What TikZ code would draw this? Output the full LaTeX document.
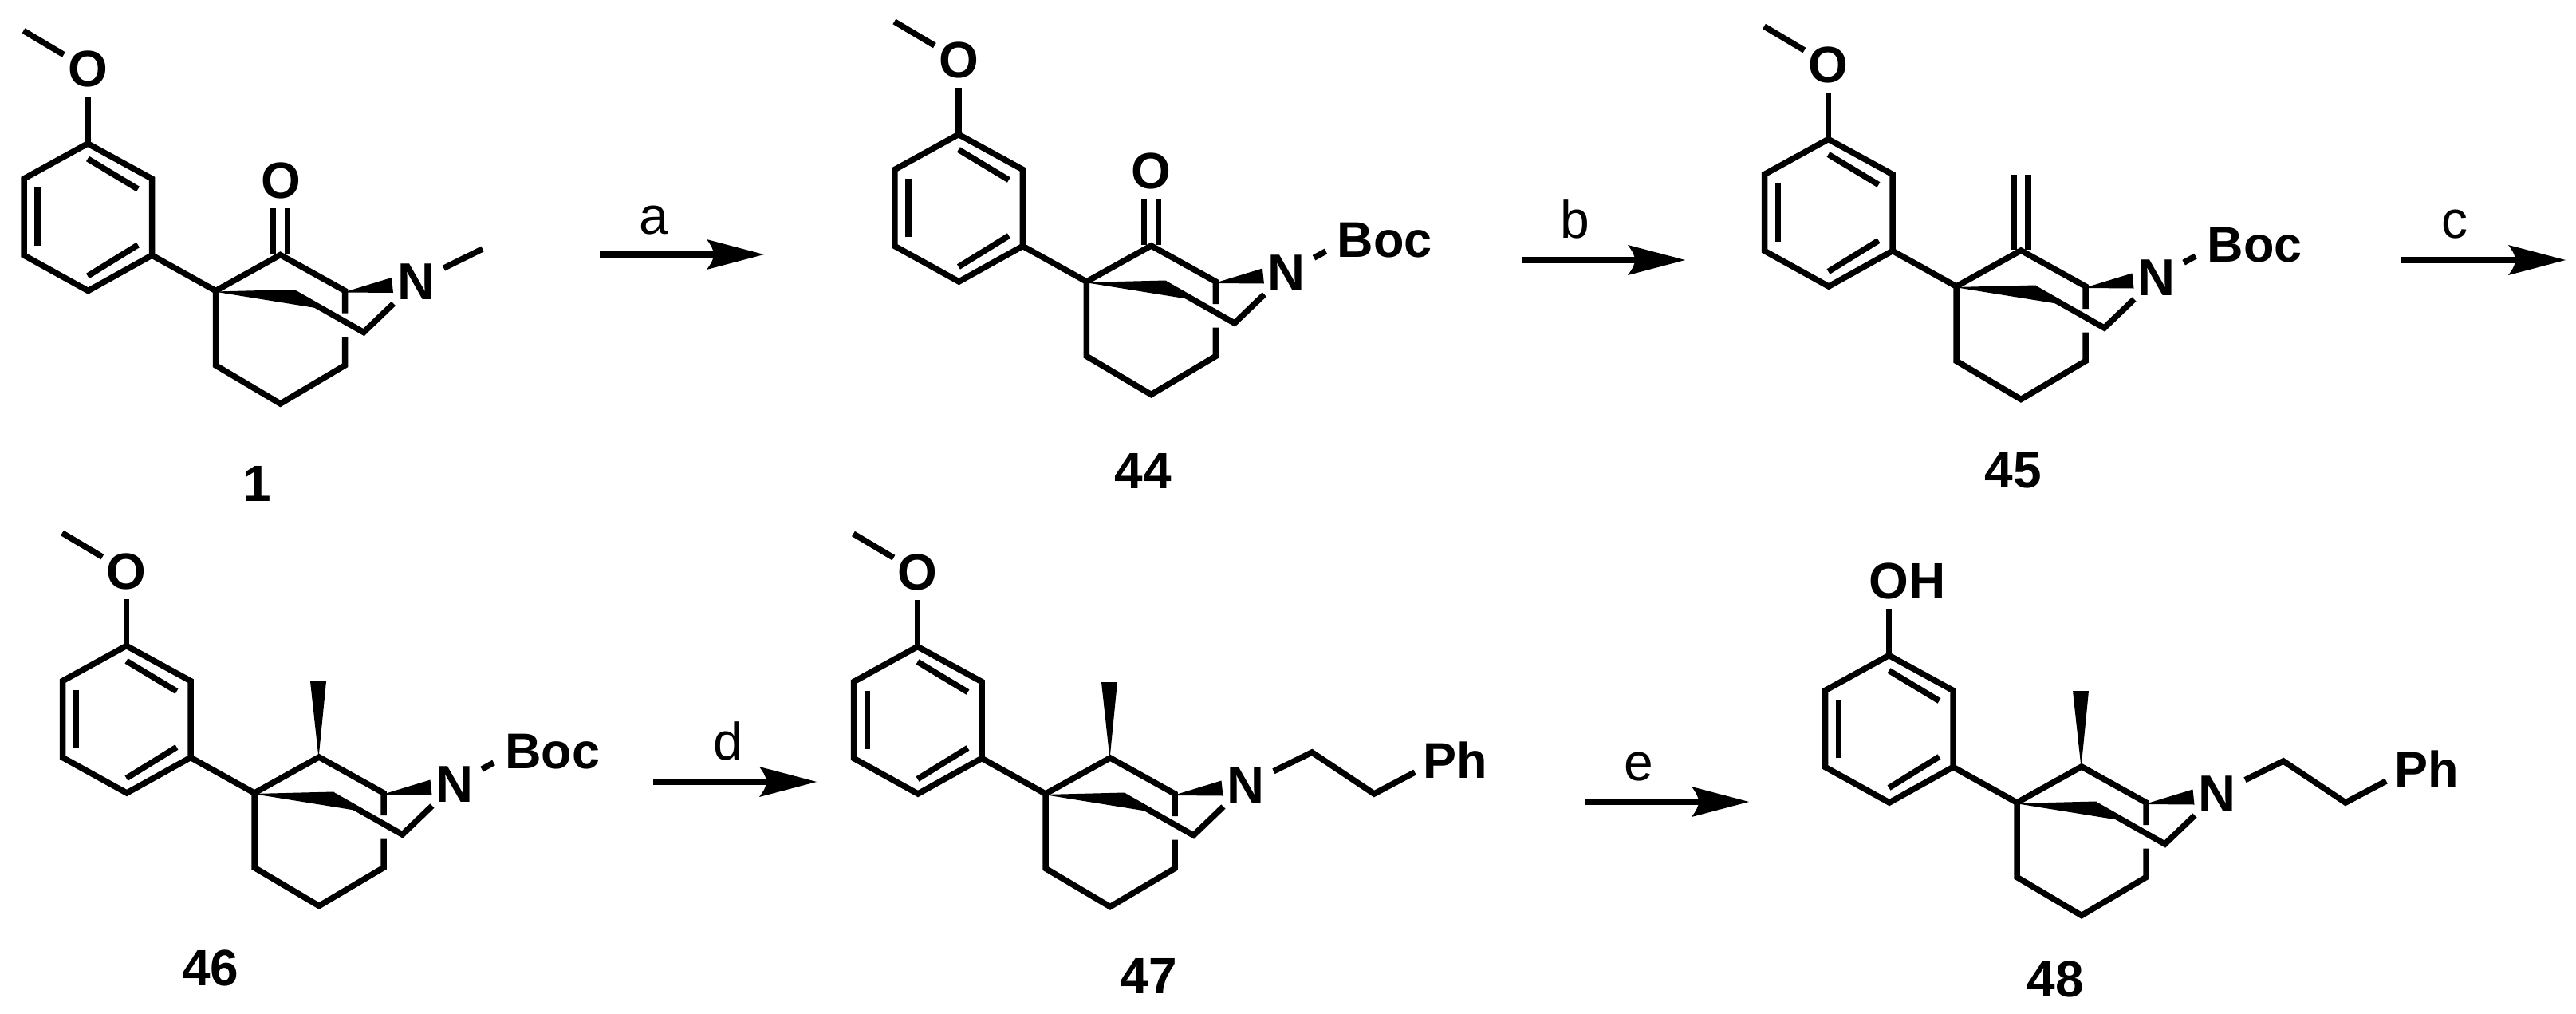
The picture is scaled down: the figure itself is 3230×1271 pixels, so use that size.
\documentclass[tikz,border=0pt]{standalone}
\usepackage{fontspec}
\setmainfont{Liberation Sans}
\usetikzlibrary{arrows.meta}
\pgfdeclarearrow{
  name=RxnTip,
  setup code={%
    \pgfarrowssettipend{0pt}%
    \pgfarrowssetlineend{-50pt}%
    \pgfarrowssetbackend{-72pt}%
    \pgfarrowssetvisualbackend{-63pt}%
    \pgfarrowshullpoint{0pt}{0pt}%
    \pgfarrowshullpoint{-72pt}{19pt}%
    \pgfarrowshullpoint{-72pt}{-19pt}%
  },
  drawing code={%
    \pgfpathmoveto{\pgfqpoint{0pt}{0pt}}%
    \pgfpathlineto{\pgfqpoint{-72pt}{19pt}}%
    \pgfpathcurveto{\pgfqpoint{-66pt}{11pt}}{\pgfqpoint{-63pt}{5pt}}{\pgfqpoint{-63pt}{0pt}}%
    \pgfpathcurveto{\pgfqpoint{-63pt}{-5pt}}{\pgfqpoint{-66pt}{-11pt}}{\pgfqpoint{-72pt}{-19pt}}%
    \pgfpathclose
    \pgfusepathqfill
  },
}
\tikzset{
  bond/.style={line width=7.5pt,line cap=butt,line join=miter,miter limit=10},
  atomO/.style={circle,inner sep=0pt,outer sep=0pt,minimum size=70pt,font=\bfseries\fontsize{64}{64}\selectfont},
  atomN/.style={circle,inner sep=0pt,outer sep=0pt,minimum size=78pt,font=\bfseries\fontsize{65}{65}\selectfont},
  grouplabel/.style={inner sep=0pt,outer sep=0pt,font=\bfseries\fontsize{63}{63}\selectfont},
  cpd/.style={inner sep=0pt,outer sep=0pt,font=\bfseries\fontsize{64}{64}\selectfont},
  step label/.style={anchor=base,inner sep=0pt,outer sep=0pt,font=\fontsize{66}{66}\selectfont},
  rxn/.style={line width=8pt,line cap=butt,-RxnTip},
}
% aryl ring, bicyclic core and N, all relative to the quaternary carbon
\newcommand{\corebody}[2]{%
  \coordinate (#1q) at (0,0);
  \coordinate (#1c1) at (-160.5,-184.5);
  \coordinate (#1c2) at (-80,-140.5);
  \coordinate (#1c3) at (-80,-44.5);
  \coordinate (#1c4) at (-160,0);
  \coordinate (#1c5) at (-240.5,-44.5);
  \coordinate (#1c6) at (-240.5,-140.5);
  \coordinate (#1i1) at (-160.5,-165.5);
  \coordinate (#1i2) at (-97.5,-127.5);
  \coordinate (#1i3) at (-223.5,-129.5);
  \coordinate (#1i4) at (-223.5,-56.5);
  \coordinate (#1i5) at (-97.5,-57.5);
  \coordinate (#1i6) at (-160.5,-18.5);
  \coordinate (#1a) at (81,-45);
  \coordinate (#1ch) at (162,0);
  \coordinate (#1g1) at (162,28);
  \coordinate (#1g2) at (162,57.5);
  \coordinate (#1b1) at (162,93.5);
  \coordinate (#1b2) at (81,141.5);
  \coordinate (#1b3) at (0,93.5);
  \coordinate (#1w0) at (-2,1);
  \coordinate (#1w1) at (99.5,-1.5);
  \coordinate (#1w2) at (125.5,21.5);
  \coordinate (#1bm) at (100,3.5);
  \coordinate (#1bv) at (185.5,52);
  \coordinate (#1x0) at (160,2);
  \coordinate (#1x1) at (220.5,-16.5);
  \coordinate (#1x2) at (222.5,2.5);
  \node[atomN] (#1n) at (251,-11) {N};
  \node[atomO] (#1o) at (-160.5,-278) {#2};
  \draw[bond] (#1o) -- (#1c1);
  \draw[bond] (#1c1) -- (#1c2) -- (#1c3) -- (#1c4) -- (#1c5) -- (#1c6) -- cycle;
  \draw[bond] (#1i1) -- (#1i2);
  \draw[bond] (#1i3) -- (#1i4);
  \draw[bond] (#1i5) -- (#1i6);
  \draw[bond] (#1c3) -- (#1q) -- (#1a) -- (#1ch) -- (#1g1);
  \draw[bond] (#1g2) -- (#1b1) -- (#1b2) -- (#1b3) -- (#1q);
  \fill (#1w0) -- (#1w1) -- (#1w2) -- cycle;
  \draw[bond] (#1bm) -- (#1bv) -- (#1n);
  \fill (#1x0) -- (#1x1) -- (#1x2) -- cycle;
}
% methoxy methyl
\newcommand{\methoxy}[1]{%
  \coordinate (#1me) at (-241,-326);
  \draw[bond] (#1o) -- (#1me);
}
% C=X double bond
\newcommand{\exodouble}[1]{%
  \coordinate (#1d1) at (72,-46);
  \coordinate (#1d2) at (90,-46);
  \coordinate (#1d3) at (72,-103.5);
  \coordinate (#1d4) at (90,-103.5);
  \draw[bond] (#1d1) -- (#1d3);
  \draw[bond] (#1d2) -- (#1d4);
}
% methyl wedge
\newcommand{\mewedge}[1]{%
  \coordinate (#1t1) at (70,-140);
  \coordinate (#1t2) at (90,-140);
  \coordinate (#1t0) at (80.5,-44);
  \fill (#1t0) -- (#1t1) -- (#1t2) -- cycle;
}
\newcommand{\bocgroup}[1]{%
  \coordinate (#1bb) at (300,-38);
  \node[grouplabel] (#1boc) at (374,-52) {Boc};
  \draw[bond] (#1n) -- (#1bb);
}
\newcommand{\phchain}[1]{%
  \coordinate (#1p1) at (334,-52);
  \coordinate (#1p2) at (412,0);
  \coordinate (#1p3) at (463,-27);
  \node[grouplabel] (#1ph) at (514,-42) {Ph};
  \draw[bond] (#1n) -- (#1p1) -- (#1p2) -- (#1p3);
}
\begin{document}
\begin{tikzpicture}[x=1pt,y=-1pt]
\useasboundingbox (0,0) rectangle (3230,1271);
% 1
\begin{scope}[shift={(270.5,364.5)}]
  \corebody{A}{O}\methoxy{A}\exodouble{A}
  \node[atomO] (Acarb) at (81.5,-138.5) {O};
  \coordinate (Ame2) at (334.5,-52.5);
  \draw[bond] (An) -- (Ame2);
\end{scope}
% 44
\begin{scope}[shift={(1362.4,353)}]
  \corebody{B}{O}\methoxy{B}\exodouble{B}\bocgroup{B}
  \node[atomO] (Bcarb) at (81,-139) {O};
\end{scope}
% 45
\begin{scope}[shift={(2453,359)}]
  \corebody{C}{O}\methoxy{C}\bocgroup{C}
  \coordinate (Cd1) at (72.5,-46);
  \coordinate (Cd2) at (90,-46);
  \coordinate (Cd3) at (72.5,-140);
  \coordinate (Cd4) at (90,-140);
  \draw[bond] (Cd1) -- (Cd3);
  \draw[bond] (Cd2) -- (Cd4);
\end{scope}
% 46
\begin{scope}[shift={(319,994)}]
  \corebody{D}{O}\methoxy{D}\bocgroup{D}\mewedge{D}
\end{scope}
% 47
\begin{scope}[shift={(1311,995)}]
  \corebody{E}{O}\methoxy{E}\phchain{E}\mewedge{E}
\end{scope}
% 48
\begin{scope}[shift={(2529,1006)}]
  \corebody{F}{O\rlap{H}}\phchain{F}\mewedge{F}
\end{scope}
% compound numbers
\node[cpd] (n1)  at (322,606)    {1};
\node[cpd] (n44) at (1433,590)   {44};
\node[cpd] (n45) at (2524,590)   {45};
\node[cpd] (n46) at (264,1213.5) {46};
\node[cpd] (n47) at (1440,1223.5){47};
\node[cpd] (n48) at (2577,1227.5){48};
% reaction arrows
\coordinate (a1) at (752,319);  \coordinate (a2) at (958,319);
\coordinate (b1) at (1908,326); \coordinate (b2) at (2113,326);
\coordinate (c1) at (3011,326); \coordinate (c2) at (3217,326);
\coordinate (d1) at (819,980);  \coordinate (d2) at (1024,980);
\coordinate (e1) at (1987,1005);\coordinate (e2) at (2193,1005);
\draw[rxn] (a1) -- (a2);
\draw[rxn] (b1) -- (b2);
\draw[rxn] (c1) -- (c2);
\draw[rxn] (d1) -- (d2);
\draw[rxn] (e1) -- (e2);
\node[step label] (la) at (820,293)  {a};
\node[step label] (lb) at (1975,298) {b};
\node[step label] (lc) at (3078,298) {c};
\node[step label] (ld) at (913,952)  {d};
\node[step label] (le) at (2055,978) {e};
\end{tikzpicture}
\end{document}
